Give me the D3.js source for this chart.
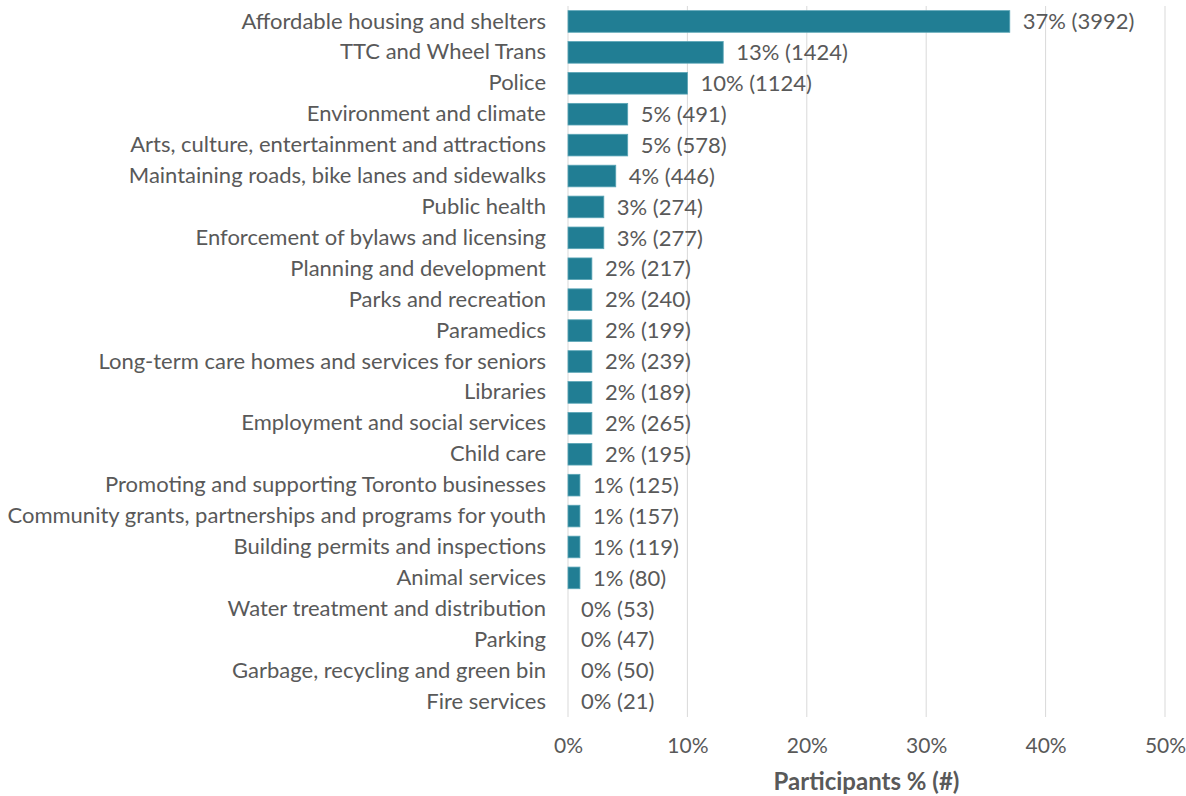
<!DOCTYPE html>
<html>
<head>
<meta charset="utf-8">
<script src="https://cdn.jsdelivr.net/npm/d3@7"></script>
<style>
  body { margin: 0; background: #fff; }
  text { font-family: Lato, "Open Sans", sans-serif; fill: #595959; }
</style>
</head>
<body>
<div id="chart"></div>
<script>
// categories, top to bottom
let categories = [
    "Affordable housing and shelters",
    "TTC and Wheel Trans",
    "Police",
    "Environment and climate",
    "Arts, culture, entertainment and attractions",
    "Maintaining roads, bike lanes and sidewalks",
    "Public health",
    "Enforcement of bylaws and licensing",
    "Planning and development",
    "Parks and recreation",
    "Paramedics",
    "Long-term care homes and services for seniors",
    "Libraries",
    "Employment and social services",
    "Child care",
    "Promoting and supporting Toronto businesses",
    "Community grants, partnerships and programs for youth",
    "Building permits and inspections",
    "Animal services",
    "Water treatment and distribution",
    "Parking",
    "Garbage, recycling and green bin",
    "Fire services"
];

// percent of participants (rounded, as shown)
let percents = [37, 13, 10, 5, 5, 4, 3, 3, 2, 2, 2, 2, 2, 2, 2, 1, 1, 1, 1, 0, 0, 0, 0];

// number of participants
let counts = [3992, 1424, 1124, 491, 578, 446, 274, 277, 217, 240, 199, 239, 189, 265, 195, 125, 157, 119, 80, 53, 47, 50, 21];

let xTicks = [0, 10, 20, 30, 40, 50];

let width = 1186;
let height = 796;
let margin = {left: 568, right: 21, top: 6, bottom: 79};

let svg = d3.select("#chart")
    .append("svg")
    .attr("width", width)
    .attr("height", height);

let xScale = d3.scaleLinear()
    .domain([0, 50])
    .range([margin.left, width - margin.right]);

let yScale = d3.scaleBand()
    .domain(categories)
    .range([margin.top, height - margin.bottom])
    .paddingInner(0.3)
    .paddingOuter(0.15);

// 网格线
svg.append("g")
    .selectAll("line")
    .data(xTicks)
    .enter()
    .append("line")
    .attr("x1", d => xScale(d))
    .attr("x2", d => xScale(d))
    .attr("y1", margin.top)
    .attr("y2", height - margin.bottom)
    .attr("stroke", "#d9d9d9")
    .attr("stroke-width", 1);

// x轴刻度
let xAxis = d3.axisBottom(xScale)
    .tickValues(xTicks)
    .tickSize(0)
    .tickPadding(0)
    .tickFormat(d => d + "%");

svg.append("g")
    .attr("transform", "translate(0," + (height - margin.bottom + 36) + ")")
    .call(xAxis)
    .call(g => g.select(".domain").remove())
    .selectAll("text")
    .attr("dy", "0")
    .style("font-size", "21px")
    .attr("fill", "#595959");

// 类别标签
let yAxis = d3.axisLeft(yScale)
    .tickSize(0)
    .tickPadding(22);

svg.append("g")
    .attr("transform", "translate(" + margin.left + ",0)")
    .call(yAxis)
    .call(g => g.select(".domain").remove())
    .selectAll("text")
    .style("font-size", "22px")
    .attr("fill", "#595959");

// 柱子
svg.selectAll(".bar")
    .data(categories)
    .enter()
    .append("rect")
    .attr("class", "bar")
    .attr("x", xScale(0))
    .attr("y", d => yScale(d))
    .attr("width", (d, i) => xScale(percents[i]) - xScale(0))
    .attr("height", yScale.bandwidth())
    .attr("fill", "#217e94")
    .attr("stroke", "#5aa5b6")
    .attr("stroke-width", (d, i) => percents[i] > 0 ? 0.8 : 0);

// 数值标签
svg.selectAll(".value")
    .data(categories)
    .enter()
    .append("text")
    .attr("class", "value")
    .attr("x", (d, i) => xScale(percents[i]) + 13)
    .attr("y", d => yScale(d) + yScale.bandwidth() / 2)
    .attr("dy", "0.35em")
    .style("font-size", "22px")
    .attr("fill", "#404040")
    .text((d, i) => percents[i] + "% (" + counts[i] + ")");

// x轴标题
svg.append("text")
    .attr("x", (xScale(0) + xScale(50)) / 2)
    .attr("y", height - 6)
    .attr("text-anchor", "middle")
    .style("font-size", "24px")
    .style("font-weight", "bold")
    .attr("fill", "#595959")
    .text("Participants % (#)");
</script>
</body>
</html>
